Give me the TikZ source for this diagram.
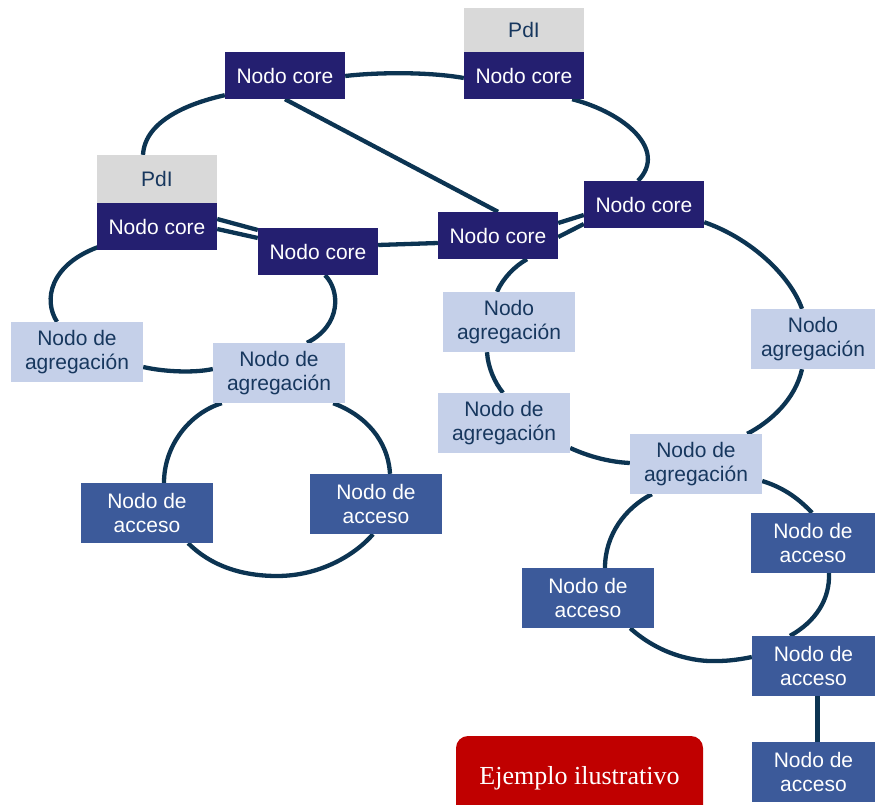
\documentclass[tikz,border=0pt]{standalone}
\usepackage{fontspec}
\setmainfont{Liberation Sans}
\newfontfamily\timesfont{Liberation Serif}
\usetikzlibrary{calc}
\pgfdeclarelayer{bg}
\pgfsetlayers{bg,main}
\definecolor{corefill}{RGB}{36,31,112}
\definecolor{pdifill}{RGB}{217,217,217}
\definecolor{aggfill}{RGB}{197,208,233}
\definecolor{accfill}{RGB}{60,90,154}
\definecolor{darktext}{RGB}{23,55,94}
\definecolor{ringcol}{RGB}{12,52,82}
\definecolor{redfill}{RGB}{192,0,0}
\begin{document}
\begin{tikzpicture}[x=1pt,y=-1pt,
  base/.style={rectangle,inner sep=0pt,align=center,font=\fontsize{21}{24.5}\selectfont},
  core/.style={base,fill=corefill,text=white,minimum width=120pt,minimum height=47pt},
  pdi/.style={base,fill=pdifill,text=darktext,minimum width=120pt},
  agg/.style={base,fill=aggfill,text=darktext,minimum width=132pt,minimum height=60pt},
  acc/.style={base,fill=accfill,text=white,minimum width=132pt,minimum height=60pt},
  ring/.style={draw=ringcol,line width=4.3pt}]
\useasboundingbox (0,0) rectangle (875,805);
% core nodes
\node[pdi,minimum height=44pt] (P2) at (524,30) {PdI};
\node[pdi,minimum height=48pt] (P3) at (157,179) {PdI};
\node[core] (C1) at (285,75.5) {Nodo core};
\node[core] (C2) at (524,75.5) {Nodo core};
\node[core] (C3) at (157,226.5) {Nodo core};
\node[core] (C4) at (318,251.5) {Nodo core};
\node[core] (C5) at (498,235.5) {Nodo core};
\node[core] (C6) at (644,204.5) {Nodo core};
% aggregation
\node[agg] (A1) at (77,352) {Nodo de\\agregación};
\node[agg] (A2) at (279,373) {Nodo de\\agregación};
\node[agg] (A3) at (509,322) {Nodo\\agregación};
\node[agg,minimum width=124pt] (A4) at (813,339) {Nodo\\agregación};
\node[agg] (A5) at (504,423) {Nodo de\\agregación};
\node[agg] (A6) at (696,464) {Nodo de\\agregación};
% access
\node[acc] (B1) at (147,513) {Nodo de\\acceso};
\node[acc] (B2) at (376,504) {Nodo de\\acceso};
\node[acc,minimum width=124pt] (B3) at (813,543) {Nodo de\\acceso};
\node[acc] (B4) at (588,598) {Nodo de\\acceso};
\node[acc,minimum width=123pt] (B5) at (813.5,666) {Nodo de\\acceso};
\node[acc,minimum width=123pt] (B6) at (813.5,772) {Nodo de\\acceso};
% label
\node[rectangle,rounded corners=12pt,fill=redfill,text=white,minimum width=247pt,minimum height=84pt,inner sep=0pt,font=\timesfont\fontsize{26}{30}\selectfont] (R) at (579.5,778) {\raisebox{-5pt}{Ejemplo ilustrativo}};
\begin{pgfonlayer}{bg}
% top ring
\draw[ring] ($(P3.north)+(-14,0)$) .. controls (145,120) and (190,103) .. ($(C1.south west)+(0,-4)$);
\draw[ring] ($(C1.east)+(0,0.5)$) .. controls (380,72) and (430,72) .. ($(C2.west)+(0,2.5)$);
\draw[ring] ($(C2.south east)+(-12,0)$) .. controls (625,113) and (668,150) .. ($(C6.north)+(-6,0)$);
\draw[ring] ($(C6.west)+(0,10.5)$) -- ($(C5.east)+(0,-12.5)$);
\draw[ring] ($(C5.west)+(0,7.5)$) -- ($(C4.east)+(0,-6.5)$);
\draw[ring] ($(C4.west)+(0,-21.5)$) -- ($(C3.east)+(0,-7.5)$);
\draw[ring] (C1.south) -- (C5.north);
% left ring
\draw[ring] ($(C3.east)+(0,2.5)$) -- ($(C4.west)+(0,-13.5)$);
\draw[ring] ($(C4.south)+(7,0)$) .. controls (340,290) and (342,325) .. ($(A2.north)+(28,0)$);
\draw[ring] ($(A2.west)+(0,-4)$) .. controls (195,373) and (165,372) .. ($(A1.east)+(0,15)$);
\draw[ring] ($(A1.north)+(-20,0)$) .. controls (43,300) and (50,265) .. ($(C3.south west)+(1,-3)$);
% right ring
\draw[ring] ($(C5.east)+(0,1.5)$) -- ($(C6.west)+(0,19.5)$);
\draw[ring] ($(C6.south east)+(0,-6)$) .. controls (750,238) and (790,275) .. ($(A4.north)+(-11,0)$);
\draw[ring] ($(A4.south)+(-11,0)$) .. controls (795,400) and (770,422) .. ($(A6.north east)+(-15,0)$);
\draw[ring] ($(A6.west)+(0,-1)$) .. controls (610,462) and (590,457) .. ($(A5.east)+(0,25)$);
\draw[ring] ($(A5.north)+(-1,0)$) .. controls (495,383) and (488,368) .. ($(A3.south)+(-22,0)$);
\draw[ring] ($(A3.north)+(-12,0)$) .. controls (503,278) and (515,266) .. ($(C5.south)+(29,0)$);
% bottom-left ring
\draw[ring] ($(A2.south west)+(9,0)$) .. controls (190,413) and (164,445) .. ($(B1.north)+(17,0)$);
\draw[ring] ($(B1.south east)+(-25,0)$) .. controls (215,570) and (250,576) .. (277,576) .. controls (320,576) and (355,555) .. ($(B2.south)+(-3,0)$);
\draw[ring] ($(B2.north)+(14,0)$) .. controls (388,440) and (365,415) .. ($(A2.south east)+(-12,0)$);
% bottom-right ring
\draw[ring] ($(A6.south west)+(22,0)$) .. controls (625,508) and (605,535) .. ($(B4.north)+(17,0)$);
\draw[ring] ($(A6.east)+(0,17)$) .. controls (785,488) and (800,500) .. ($(B3.north)+(-1,0)$);
\draw[ring] ($(B3.south)+(16,0)$) .. controls (830,600) and (815,622) .. ($(B5.north)+(-23.5,0)$);
\draw[ring] ($(B5.west)+(0,-9)$) .. controls (742,659) and (730,661) .. (717,661) .. controls (695,662) and (660,655) .. ($(B4.south east)+(-24,0)$);
\draw[ring] ($(B5.south)+(4,0)$) -- ($(B6.north)+(4,0)$);
\end{pgfonlayer}
\end{tikzpicture}
\end{document}
